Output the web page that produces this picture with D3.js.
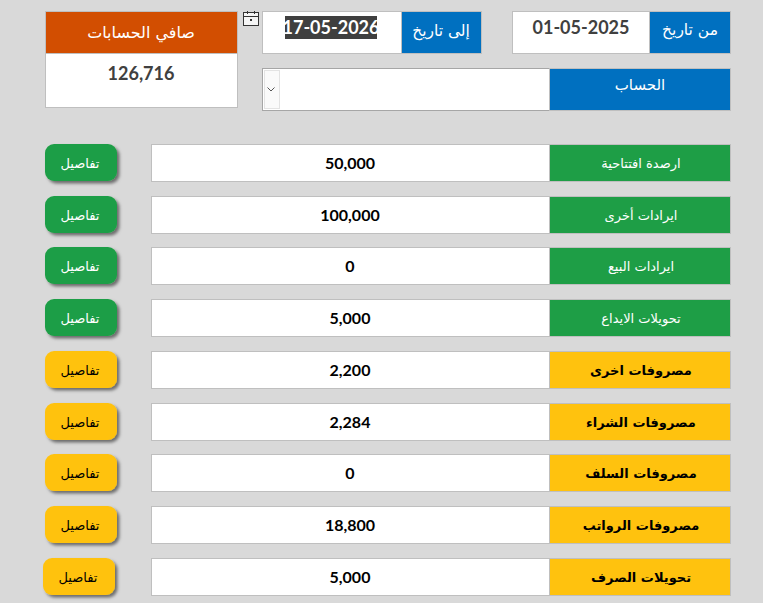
<!DOCTYPE html>
<html lang="ar"><head><meta charset="utf-8">
<script src="https://cdn.jsdelivr.net/npm/d3@7"></script>
<style>html,body{margin:0;padding:0;background:#d9d9d9;overflow:hidden}svg{display:block}</style>
</head><body><svg id="c" width="763" height="603"></svg>
<script>
const rowLabels = ["ارصدة افتتاحية","ايرادات أخرى","ايرادات البيع","تحويلات الايداع","مصروفات اخرى","مصروفات الشراء","مصروفات السلف","مصروفات الرواتب","تحويلات الصرف"];
const rowValues = [50000,100000,0,5000,2200,2284,0,18800,5000];
const rowKinds = ["in","in","in","in","out","out","out","out","out"];
const buttonLabel = "تفاصيل";
const netLabel = "صافي الحسابات";
const netValue = 126716;
const fromLabel = "من تاريخ";
const fromDate = "01-05-2025";
const toLabel = "إلى تاريخ";
const toDate = "17-05-2026";
const accountLabel = "الحساب";

const ar = "'DejaVu Sans',sans-serif", num = "Lato,'Open Sans',sans-serif";
const fmt = d3.format(",");
const svg = d3.select("#c");
const y = d3.scaleBand().domain(d3.range(rowLabels.length)).range([144, 596]).paddingInner(0.2657).paddingOuter(0).align(0);
const fill = d3.scaleOrdinal().domain(["in","out"]).range(["#1e9e46","#ffc20e"]);
const ink = d3.scaleOrdinal().domain(["in","out"]).range(["#ffffff","#000000"]);
const border = "#bfbfbf";

const defs = svg.append("defs");
const f = defs.append("filter").attr("id","sh").attr("x","-20%").attr("y","-20%").attr("width","150%").attr("height","150%");
f.append("feDropShadow").attr("dx",2.5).attr("dy",2.5).attr("stdDeviation",1.6).attr("flood-color","#000").attr("flood-opacity",0.5);

function box(g,x,yy,w,h,c,st){return g.append("rect").attr("x",x+.5).attr("y",yy+.5).attr("width",w-1).attr("height",h-1).attr("fill",c).attr("stroke",st||border);}
function txt(g,x,yy,s,o){return g.append("text").attr("x",x).attr("y",yy).attr("text-anchor","middle").attr("font-family",o.f).attr("font-size",o.s).attr("font-weight",o.w||"normal").attr("fill",o.c).text(s);}

const head = svg.append("g");
box(head,45,11,193,43,"#d24e01"); txt(head,141,38,netLabel,{f:ar,s:16,c:"#fff"});
box(head,45,53,193,55,"#fff"); txt(head,141,80,fmt(netValue),{f:num,s:18,w:700,c:"#404040"});
box(head,262,11,140,43,"#fff");
head.append("rect").attr("x",285).attr("y",16).attr("width",92).attr("height",23).attr("fill","#3f3f3f");
txt(head,331,34,toDate,{f:num,s:18,w:700,c:"#fff"});
box(head,401,11,81,43,"#0070c0"); txt(head,441,36,toLabel,{f:ar,s:15.5,c:"#fff"});
box(head,512,11,139,43,"#fff"); txt(head,581,34,fromDate,{f:num,s:18,w:700,c:"#404040"});
box(head,649,11,82,43,"#0070c0"); txt(head,690,35,fromLabel,{f:ar,s:15.5,c:"#fff"});
box(head,262,68,288,43,"#fff","#a6a6a6");
head.append("rect").attr("x",264.5).attr("y",70.5).attr("width",15).attr("height",38).attr("fill","#fafafa").attr("stroke","#e3e3e3");
head.append("path").attr("d","M267.5 87.5l3.5 3.5l3.5-3.5").attr("fill","none").attr("stroke","#555");
box(head,549,68,182,43,"#0070c0"); txt(head,640,90,accountLabel,{f:ar,s:15,c:"#fff"});
const cal = head.append("g").attr("fill","none").attr("stroke","#333");
cal.append("rect").attr("x",243.5).attr("y",12.5).attr("width",15).attr("height",13).attr("fill","#f5f5f5");
cal.append("path").attr("d","M243.5 16.5h15M247.5 11v3M254.5 11v3");
head.append("rect").attr("x",250).attr("y",19).attr("width",2).attr("height",2).attr("fill","#333");

const rows = svg.selectAll("g.row").data(rowLabels).join("g").attr("class","row");
rows.each(function(label,i){
  const g = d3.select(this), t = Math.round(y(i)), h = y.bandwidth();
  const kind = rowKinds[i], shift = i === rowLabels.length - 1 ? -2 : 0;
  box(g,151,t,399,h,"#fff");
  box(g,549,t,182,h,fill(kind));
  g.append("rect").attr("x",45+shift).attr("y",t).attr("width",72).attr("height",37).attr("rx",9)
    .attr("fill",fill(kind)).attr("filter","url(#sh)");
  txt(g,80+shift,t+24,buttonLabel,{f:ar,s:13,c:ink(kind)});
  txt(g,350,t+25,fmt(rowValues[i]),{f:num,s:16,w:700,c:"#000"});
  txt(g,641,t+24,label,{f:ar,s:13,c:ink(kind),w:kind==="in"?"normal":"bold"});
});
</script></body></html>
